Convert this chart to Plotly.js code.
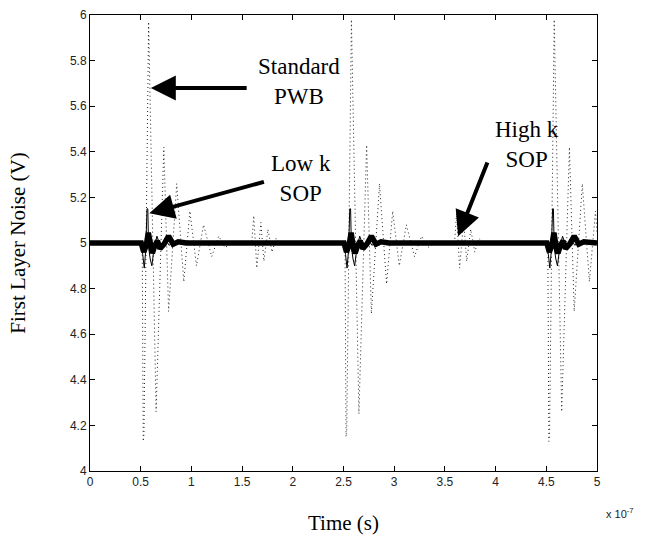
<!DOCTYPE html>
<html>
<head>
<meta charset="utf-8">
<script src="https://cdn.plot.ly/plotly-3.0.1.min.js"></script>
<style>html,body{margin:0;padding:0;background:#fff;}#chart{width:653px;height:544px;}</style>
</head>
<body>
<div id="chart"></div>
<script>
// Time in units of 1e-7 s
var xTickVals = [0, 0.5, 1, 1.5, 2, 2.5, 3, 3.5, 4, 4.5, 5];
var xTickText = ["0", "0.5", "1", "1.5", "2", "2.5", "3", "3.5", "4", "4.5", "5"];
var yTickVals = [4, 4.2, 4.4, 4.6, 4.8, 5, 5.2, 5.4, 5.6, 5.8, 6];
var yTickText = ["4", "4.2", "4.4", "4.6", "4.8", "5", "5.2", "5.4", "5.6", "5.8", "6"];

// Standard PWB (dotted)
var pwbT = [0, 0.515, 0.525, 0.532, 0.578, 0.652, 0.728, 0.775, 0.855, 0.925, 0.985, 1.05, 1.12, 1.20, 1.27, 1.33, 1.40,
            1.595, 1.615, 1.645, 1.685, 1.715, 1.755, 1.795, 1.835, 1.88,
            2.515, 2.525, 2.532, 2.578, 2.652, 2.728, 2.775, 2.855, 2.925, 2.985, 3.05, 3.12, 3.20, 3.27, 3.33, 3.40,
            3.595, 3.615, 3.645, 3.685, 3.715, 3.755, 3.795, 3.835, 3.88,
            4.515, 4.525, 4.532, 4.578, 4.652, 4.728, 4.775, 4.855, 4.925, 4.985, 5.0];
var pwbV = [5.00, 5.00, 4.13, 4.16, 5.97, 4.26, 5.42, 4.70, 5.26, 4.83, 5.14, 4.90, 5.08, 4.94, 5.03, 4.98, 5.00,
            5.00, 5.12, 4.89, 5.09, 4.92, 5.06, 4.96, 5.02, 5.00,
            5.00, 4.15, 4.18, 5.98, 4.25, 5.43, 4.69, 5.26, 4.82, 5.14, 4.90, 5.08, 4.94, 5.03, 4.98, 5.00,
            5.00, 5.13, 4.89, 5.10, 4.92, 5.06, 4.96, 5.02, 5.00,
            5.00, 4.13, 4.16, 5.98, 4.26, 5.42, 4.70, 5.26, 4.83, 5.14, 5.05];

// Low k SOP (thin solid)
var lowkT = [0, 0.505, 0.52, 0.535, 0.55, 0.562, 0.57, 0.578, 0.594, 0.61, 0.63, 0.66, 0.70, 0.74, 0.78, 0.83, 0.90,
             2.505, 2.52, 2.535, 2.55, 2.562, 2.57, 2.578, 2.594, 2.61, 2.63, 2.66, 2.70, 2.74, 2.78, 2.83, 2.90,
             4.505, 4.52, 4.535, 4.55, 4.562, 4.57, 4.578, 4.594, 4.61, 4.63, 4.66, 4.70, 4.74, 4.78, 4.83, 4.90, 5.0];
var lowkV = [5.00, 5.00, 4.95, 4.89, 4.97, 5.15, 5.15, 4.98, 4.93, 4.90, 4.97, 5.03, 4.98, 5.02, 4.99, 5.005, 5.00,
             5.00, 4.95, 4.89, 4.97, 5.15, 5.15, 4.98, 4.93, 4.90, 4.97, 5.03, 4.98, 5.02, 4.99, 5.005, 5.00,
             5.00, 4.95, 4.89, 4.97, 5.15, 5.15, 4.98, 4.93, 4.90, 4.97, 5.03, 4.98, 5.02, 4.99, 5.005, 5.00, 5.00];

// High k SOP (thick solid)
var highkT = [0, 0.505, 0.53, 0.555, 0.575, 0.60, 0.615, 0.64, 0.665, 0.69, 0.73, 0.775, 0.82, 0.87, 0.95,
              2.505, 2.53, 2.555, 2.575, 2.60, 2.615, 2.64, 2.665, 2.69, 2.73, 2.775, 2.82, 2.87, 2.95,
              4.505, 4.53, 4.555, 4.575, 4.60, 4.615, 4.64, 4.665, 4.69, 4.73, 4.775, 4.82, 4.87, 4.95, 5.0];
var highkV = [5.00, 5.00, 4.96, 4.99, 5.045, 4.975, 4.955, 4.99, 5.01, 4.975, 4.995, 5.03, 4.995, 5.005, 5.00,
              5.00, 4.96, 4.99, 5.045, 4.975, 4.955, 4.99, 5.01, 4.975, 4.995, 5.03, 4.995, 5.005, 5.00,
              5.00, 4.96, 4.99, 5.045, 4.975, 4.955, 4.99, 5.01, 4.975, 4.995, 5.03, 4.995, 5.005, 5.00, 5.00];

var serif = "Liberation Serif, Times New Roman, serif";
var sans = "Liberation Sans, Arial, sans-serif";

var traces = [
  {x: pwbT, y: pwbV, type: "scatter", mode: "lines", name: "Standard PWB",
   line: {color: "#222", width: 1, dash: "1px,3px"}, hoverinfo: "skip"},
  {x: highkT, y: highkV, type: "scatter", mode: "lines", name: "High k SOP",
   line: {color: "#000", width: 5.5}, hoverinfo: "skip"},
  {x: lowkT, y: lowkV, type: "scatter", mode: "lines", name: "Low k SOP",
   line: {color: "#000", width: 1}, hoverinfo: "skip"}
];

var axisCommon = {
  showgrid: false, zeroline: false, showline: true, linecolor: "#000", linewidth: 1,
  mirror: "ticks", ticks: "inside", ticklen: 5, tickcolor: "#000", tickwidth: 1,
  tickfont: {family: sans, size: 12, color: "#222"}
};

var layout = {
  width: 653, height: 544,
  margin: {l: 90, r: 56, t: 15, b: 73},
  paper_bgcolor: "#fff", plot_bgcolor: "#fff",
  showlegend: false,
  xaxis: Object.assign({}, axisCommon, {
    range: [0, 5], tickmode: "array", tickvals: xTickVals, ticktext: xTickText,
    title: {text: "Time (s)", font: {family: serif, size: 21, color: "#000"}, standoff: 26}
  }),
  yaxis: Object.assign({}, axisCommon, {
    range: [4, 6], tickmode: "array", tickvals: yTickVals, ticktext: yTickText,
    title: {text: "First Layer Noise (V)", font: {family: serif, size: 21, color: "#000"}, standoff: 38}
  }),
  annotations: [
    {xref: "paper", yref: "paper", x: 1.045, y: -0.092, xanchor: "center", yanchor: "middle",
     text: "x 10<sup>-7</sup>", showarrow: false, font: {family: sans, size: 11, color: "#222"}},
    {x: 2.06, y: 5.71, xref: "x", yref: "y", text: "Standard<br>PWB", showarrow: false,
     font: {family: serif, size: 23, color: "#000"}, align: "center"},
    {x: 2.08, y: 5.285, xref: "x", yref: "y", text: "Low k<br>SOP", showarrow: false,
     font: {family: serif, size: 23, color: "#000"}, align: "center"},
    {x: 4.31, y: 5.43, xref: "x", yref: "y", text: "High k<br>SOP", showarrow: false,
     font: {family: serif, size: 23, color: "#000"}, align: "center"},
    {x: 0.60, y: 5.68, ax: 1.56, ay: 5.68, xref: "x", yref: "y", axref: "x", ayref: "y",
     text: "", showarrow: true, arrowhead: 2, arrowsize: 1.25, arrowwidth: 4, arrowcolor: "#000"},
    {x: 0.585, y: 5.13, ax: 1.73, ay: 5.27, xref: "x", yref: "y", axref: "x", ayref: "y",
     text: "", showarrow: true, arrowhead: 2, arrowsize: 1.25, arrowwidth: 4, arrowcolor: "#000"},
    {x: 3.63, y: 5.03, ax: 3.925, ay: 5.36, xref: "x", yref: "y", axref: "x", ayref: "y",
     text: "", showarrow: true, arrowhead: 2, arrowsize: 1.25, arrowwidth: 4, arrowcolor: "#000"}
  ]
};

Plotly.newPlot("chart", traces, layout, {staticPlot: true, displayModeBar: false});
</script>
</body>
</html>
